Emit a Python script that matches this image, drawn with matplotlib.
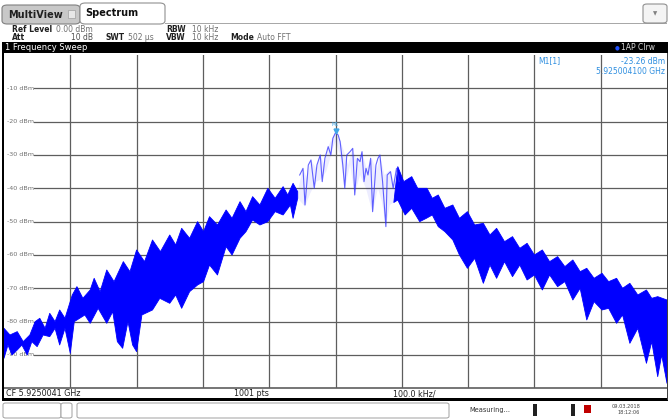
import matplotlib
matplotlib.use("Agg")
import matplotlib.pyplot as plt
from matplotlib.patches import Rectangle, FancyBboxPatch
import numpy as np

W, H = 670, 420

# ---------------- data (frequency offset from CF in kHz, level in dBm) ----------------
y_ticks = [-10, -20, -30, -40, -50, -60, -70, -80, -90]
y_tick_labels = ["-10 dBm", "-20 dBm", "-30 dBm", "-40 dBm", "-50 dBm",
                 "-60 dBm", "-70 dBm", "-80 dBm", "-90 dBm"]

# upper edge of the dense trace band
band_top = [(-500, -82), (-491, -84), (-480, -83), (-471, -86), (-461, -84), (-453, -80),
            (-446, -79), (-438, -82), (-431, -77.5), (-423, -80), (-416, -76.5), (-408, -79),
            (-397, -72), (-390, -69.5), (-381, -73), (-370, -70.5), (-364, -67), (-355, -71),
            (-345, -64.5), (-334, -68), (-320, -62), (-310, -65), (-300, -58.5), (-288, -62),
            (-276, -55.5), (-264, -59), (-250, -54), (-241, -57), (-232, -52), (-220, -55),
            (-208, -50), (-199, -53), (-190, -48.5), (-178, -51), (-165, -46.5), (-156, -49),
            (-144, -44), (-135, -47), (-125, -42.5), (-114, -45), (-102, -40), (-91, -43),
            (-79, -39.5), (-72, -42), (-64, -38.5), (-57, -41), (-49, -34), (-43, -37),
            (-37, -31.5), (-29, -34), (-23, -30), (-17, -33), (-11, -27.5), (-5, -25),
            (0, -23.3), (7, -25.5), (13, -29), (19, -33), (26, -28), (32, -32), (40, -29),
            (47, -34), (55, -31), (62, -35), (67, -30), (74, -36), (82, -34.5), (88, -38),
            (94, -33.5), (103, -38), (115, -36.5), (124, -40), (138, -40), (146, -43),
            (155, -42), (165, -46), (177, -45), (187, -49), (199, -47), (210, -51),
            (223, -50.5), (233, -54), (243, -52), (255, -56), (267, -54.5), (278, -58),
            (289, -56.5), (300, -60), (312, -58.5), (323, -62), (335, -60.5), (346, -63.5),
            (358, -61.5), (369, -65), (379, -64), (390, -67), (402, -65.5), (412, -68),
            (424, -67), (433, -70), (444, -68.5), (456, -72), (469, -70.5), (477, -73),
            (486, -72.5), (500, -73.5)]

# lower edge of the dense trace band
band_bottom = [(-500, -91), (-494, -87), (-488, -90), (-480, -88.5), (-473, -87), (-465, -90),
               (-458, -86), (-450, -87.5), (-441, -84), (-431, -84.5), (-423, -82), (-416, -87),
               (-408, -82), (-400, -89.5), (-394, -80), (-390, -79.5), (-378, -78), (-370, -80.5),
               (-358, -76), (-345, -80.5), (-336, -77), (-329, -86), (-321, -88), (-313, -80),
               (-306, -87), (-300, -89), (-292, -78), (-276, -76.5), (-265, -73), (-250, -74.5),
               (-241, -72), (-232, -76), (-220, -71), (-208, -69), (-199, -68), (-190, -63),
               (-178, -66), (-165, -57.5), (-156, -60), (-144, -55), (-135, -53), (-125, -49.5),
               (-114, -51), (-102, -50), (-91, -47), (-79, -48), (-68, -45), (-64, -49),
               (-57, -43), (-46, -45.5), (-38, -41.5), (-29, -38), (-23, -37.5), (-14, -35),
               (-8, -31), (-4, -28), (0, -26), (7, -30), (14, -40), (22, -33), (29, -42),
               (37, -36), (46, -40), (56, -47.5), (64, -40), (70, -44), (76, -51.5), (82, -45),
               (94, -43.5), (105, -48), (115, -46), (127, -50), (137, -49), (146, -48),
               (155, -51.5), (165, -53), (177, -55.5), (187, -60), (199, -64), (210, -61),
               (223, -68.5), (233, -63), (243, -67), (255, -62), (267, -66.5), (278, -63),
               (289, -67.5), (300, -66), (312, -70.5), (323, -66), (335, -69.5), (346, -68),
               (358, -73.5), (369, -70), (379, -79.5), (390, -74), (402, -76.5), (412, -76),
               (424, -80.5), (433, -78), (444, -86.5), (456, -82), (469, -92.5), (477, -86),
               (486, -96.5), (492, -90), (500, -98.5)]

# sparse trace near the carrier
center_trace = [(-54, -36), (-49, -34), (-46, -45), (-41, -33), (-37, -31.5), (-32, -40),
                (-28, -33), (-23, -30), (-20, -38), (-16, -31), (-11, -27.5), (-7, -30),
                (-4, -25), (0, -23.3), (4, -24), (7, -26), (11, -33), (14, -40), (17, -30),
                (22, -29), (26, -28), (29, -42), (33, -31), (37, -32), (40, -29), (43, -38),
                (46, -34), (49, -36), (53, -31), (56, -47), (61, -33), (64, -31), (67, -30),
                (71, -38), (76, -51.5), (78, -36), (83, -35), (87, -40), (92, -34), (96, -38)]

marker_f, marker_db = 0.0, -23.26

# ---------------- figure ----------------
fig = plt.figure(figsize=(W / 100, H / 100), dpi=100)
fig.patch.set_facecolor("white")


def fx(x):
    return x / W


def fy(y):
    return 1 - y / H


def rect(x0, y0, x1, y1, **kw):
    fig.add_artist(Rectangle((fx(x0), fy(y1)), fx(x1) - fx(x0), fy(y0) - fy(y1),
                             transform=fig.transFigure, **kw))


def txt(x, y, s, **kw):
    kw.setdefault("fontsize", 5.5)
    kw.setdefault("va", "center")
    fig.text(fx(x), fy(y), s, **kw)


# tabs
fig.add_artist(FancyBboxPatch((fx(2), fy(24)), fx(78), fy(5) - fy(24),
                              boxstyle="round,pad=0,rounding_size=0.008",
                              transform=fig.transFigure, facecolor="#c8c8c8",
                              edgecolor="#808080", linewidth=0.8))
fig.add_artist(FancyBboxPatch((fx(80), fy(24)), fx(85), fy(3) - fy(24),
                              boxstyle="round,pad=0,rounding_size=0.008",
                              transform=fig.transFigure, facecolor="white",
                              edgecolor="#909090", linewidth=0.8))
txt(8, 14.5, "MultiView", fontsize=7, fontweight="bold", color="#202020")
rect(68, 10, 75, 18, facecolor="#e8e8e8", edgecolor="#a0a0a0", linewidth=0.5)
txt(85, 13.5, "Spectrum", fontsize=7, fontweight="bold", color="#101010")
rect(165, 22.5, 667, 24, facecolor="#a8a8a8", edgecolor="none")
fig.add_artist(FancyBboxPatch((fx(643), fy(23)), fx(24), fy(4) - fy(23),
                              boxstyle="round,pad=0,rounding_size=0.006",
                              transform=fig.transFigure, facecolor="#f4f4f4",
                              edgecolor="#909090", linewidth=0.8))
txt(655, 13.5, "\u25bc", fontsize=4, color="#808080", ha="center")

# header info
txt(12, 29, "Ref Level", fontsize=5.5, color="#202020", fontweight="semibold")
txt(56, 29, "0.00 dBm", fontsize=5.5, color="#707070")
txt(12, 38, "Att", fontsize=5.5, color="#202020", fontweight="semibold")
txt(93, 38, "10 dB", fontsize=5.5, color="#505050", ha="right")
txt(105, 38, "SWT", fontsize=5.5, color="#202020", fontweight="bold")
txt(128, 38, "502 \u00b5s", fontsize=5.5, color="#707070")
txt(166, 29, "RBW", fontsize=5.5, color="#202020", fontweight="bold")
txt(192, 29, "10 kHz", fontsize=5.5, color="#707070")
txt(166, 38, "VBW", fontsize=5.5, color="#202020", fontweight="bold")
txt(192, 38, "10 kHz", fontsize=5.5, color="#707070")
txt(230, 38, "Mode", fontsize=5.5, color="#202020", fontweight="bold")
txt(257, 38, "Auto FFT", fontsize=5.5, color="#707070")

# black title bar
rect(2, 42, 668, 53, facecolor="black", edgecolor="none")
txt(5, 47.5, "1 Frequency Sweep", fontsize=6, color="white")
txt(617, 47.5, "\u25cf", fontsize=4, color="#2050ff", ha="center")
txt(621, 47.5, "1AP Clrw", fontsize=5.5, color="#d8d8d8")

# ---------------- plot axes ----------------
ax = fig.add_axes([fx(4), fy(388.3), fx(667) - fx(4), fy(55) - fy(388.3)])
ax.set_xlim(-500, 500)
ax.set_ylim(-100, 0)
ax.set_facecolor("white")
for s in ax.spines.values():
    s.set_visible(False)
ax.set_xticks([])
ax.set_yticks([])

grid_c = "#5e5e5e"
for k in range(-4, 5):
    ax.axvline(k * 100, color=grid_c, linewidth=0.9, zorder=1)
for yv, lab in zip(y_ticks, y_tick_labels):
    ax.axhline(yv, xmin=0.046, xmax=1, color=grid_c, linewidth=0.9, zorder=1)
    ax.text(-495, yv, lab, fontsize=4.6, color="#707070", va="center", ha="left",
            zorder=2)
ax.axhline(-100, color=grid_c, linewidth=1.2, zorder=1, clip_on=False)

# trace band
tf, tdb = np.array(band_top, float).T
bf, bdb = np.array(band_bottom, float).T
grid_f = np.union1d(tf, bf)
up = np.interp(grid_f, tf, tdb)
lo = np.interp(grid_f, bf, bdb)
outer = (grid_f <= -52) | (grid_f >= 94)
inner = (grid_f >= -57) & (grid_f <= 103)
ax.fill_between(grid_f, lo, up, where=outer, facecolor="#0000ff", linewidth=0.6,
                edgecolor="#0000ff", zorder=3, interpolate=True)
ax.fill_between(grid_f, lo, up, where=inner, facecolor="#0000ff", alpha=0.07,
                linewidth=0, zorder=3, interpolate=True)
cf, cdb = np.array(center_trace, float).T
ax.plot(cf, cdb, color="#3030ff", linewidth=0.8, alpha=0.75, zorder=4)

# marker
ax.plot([marker_f], [marker_db + 0.6], marker="v", markersize=3.5,
        color="#40a8e8", zorder=5, linestyle="none")
ax.text(marker_f, marker_db + 1.6, "M1", fontsize=3.5, color="#40a8e8",
        ha="center", va="bottom", zorder=5)

# marker readout
txt(538, 61, "M1[1]", fontsize=5.5, color="#2f8fe0")
txt(665, 61, "-23.26 dBm", fontsize=5.5, color="#2f8fe0", ha="right")
txt(665, 71, "5.925004100 GHz", fontsize=5.5, color="#2f8fe0", ha="right")

# borders
rect(2, 53, 4, 400, facecolor="black", edgecolor="none")
rect(2, 398.5, 668, 400.5, facecolor="black", edgecolor="none")
rect(666.5, 53, 668, 400, facecolor="#404040", edgecolor="none")

# footer
txt(6, 394, "CF 5.9250041 GHz", fontsize=5.8, color="#202020")
txt(234, 394, "1001 pts", fontsize=5.8, color="#202020")
txt(393, 394, "100.0 kHz/", fontsize=5.8, color="#202020")

# status bar
for x0, x1 in [(3, 61), (61, 72), (77, 449)]:
    fig.add_artist(FancyBboxPatch((fx(x0), fy(418)), fx(x1) - fx(x0), fy(403) - fy(418),
                                  boxstyle="round,pad=0,rounding_size=0.004",
                                  transform=fig.transFigure, facecolor="white",
                                  edgecolor="#a0a0a0", linewidth=0.7))
txt(469, 410, "Measuring...", fontsize=4.8, color="#303030")
rect(533, 404, 537, 416, facecolor="#202020", edgecolor="none")
rect(571, 404, 575, 416, facecolor="#202020", edgecolor="none")
rect(584, 405, 591, 413, facecolor="#c00000", edgecolor="none")
txt(640, 406, "09.03.2018", fontsize=3.6, color="#404040", ha="right")
txt(640, 413, "18:12:06", fontsize=3.6, color="#404040", ha="right")

fig.savefig("out.png", dpi=100, facecolor="white")
